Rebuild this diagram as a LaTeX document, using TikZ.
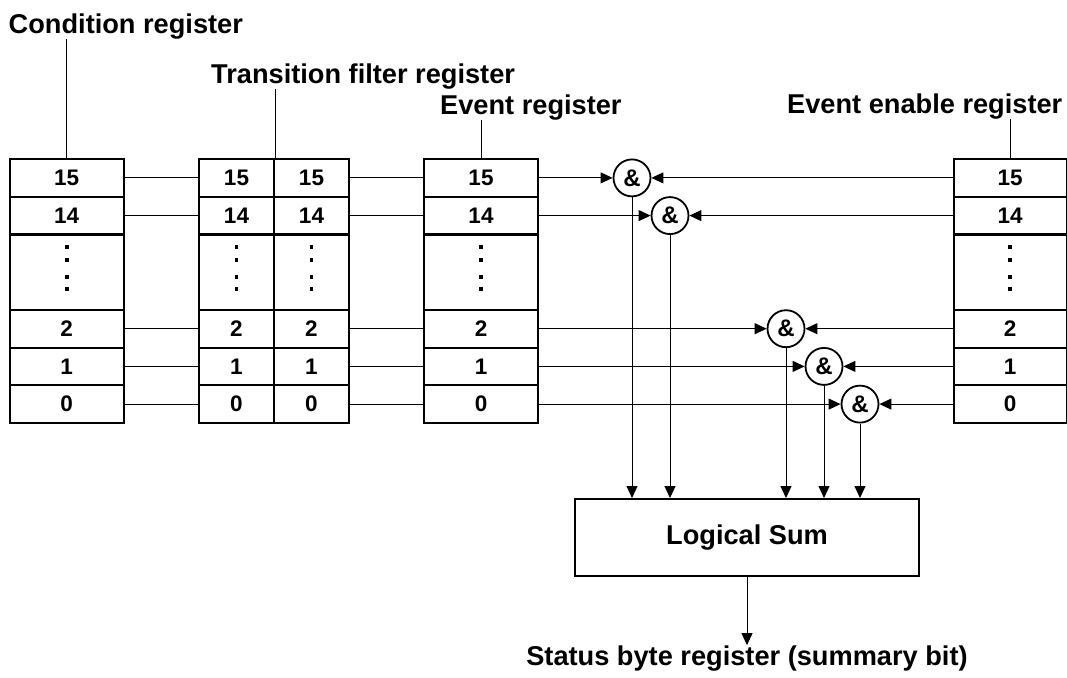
\documentclass[tikz,border=0pt]{standalone}
\usepackage{fontspec}
\setmainfont{Liberation Sans}
\usetikzlibrary{arrows.meta}

\newcommand{\regdots}[1]{%
  \foreach \dy in {25.5,12.5,-4.5,-16.5}
    \fill ([yshift=\dy pt]#1.center) +(-1.8,-1.8) rectangle +(1.8,1.8);}

\begin{document}
\begin{tikzpicture}[x=1pt, y=-1pt,
    cell/.style ={rectangle, draw, line width=2pt, minimum width=114pt, minimum height=37.7pt, inner sep=0pt, font=\fontsize{22.5}{24}\selectfont\bfseries},
    halfcell/.style ={cell, minimum width=75pt},
    gap/.style ={cell, minimum height=75.4pt},
    halfgap/.style ={halfcell, minimum height=75.4pt},
    andgate/.style ={circle, draw, line width=1.8pt, minimum size=37pt, inner sep=0pt, font=\fontsize{24}{24}\selectfont\bfseries},
    title/.style ={inner sep=0pt, anchor=base west, font=\fontsize{27.2}{30}\selectfont\bfseries},
    link/.style ={line width=1pt},
    flow/.style ={line width=1pt, -{Triangle[length=12pt,width=11pt]}}]
   \useasboundingbox (0,0) rectangle (1067,677);

   % condition register
   \node[cell] (C15) at (66.75,177.9) {15};
   \node[cell] (C14) at (66.75,215.6) {14};
   \node[gap]  (Cd)  at (66.75,272.5) {};
   \node[cell] (C2)  at (66.75,328.7) {2};
   \node[cell] (C1)  at (66.75,366.4) {1};
   \node[cell] (C0)  at (66.75,404.1) {0};

   % transition filter register
   \node[halfcell] (TA15) at (236.5,177.9) {15};
   \node[halfcell] (TA14) at (236.5,215.6) {14};
   \node[halfgap]  (TAd)  at (236.5,272.5) {};
   \node[halfcell] (TA2)  at (236.5,328.7) {2};
   \node[halfcell] (TA1)  at (236.5,366.4) {1};
   \node[halfcell] (TA0)  at (236.5,404.1) {0};
   \node[halfcell] (TB15) at (311.5,177.9) {15};
   \node[halfcell] (TB14) at (311.5,215.6) {14};
   \node[halfgap]  (TBd)  at (311.5,272.5) {};
   \node[halfcell] (TB2)  at (311.5,328.7) {2};
   \node[halfcell] (TB1)  at (311.5,366.4) {1};
   \node[halfcell] (TB0)  at (311.5,404.1) {0};

   % event register
   \node[cell] (E15) at (481,177.9) {15};
   \node[cell] (E14) at (481,215.6) {14};
   \node[gap]  (Ed)  at (481,272.5) {};
   \node[cell] (E2)  at (481,328.7) {2};
   \node[cell] (E1)  at (481,366.4) {1};
   \node[cell] (E0)  at (481,404.1) {0};

   % event enable register
   \node[cell, minimum width=113pt] (N15) at (1010,177.9) {15};
   \node[cell, minimum width=113pt] (N14) at (1010,215.6) {14};
   \node[gap, minimum width=113pt]  (Nd)  at (1010,272.5) {};
   \node[cell, minimum width=113pt] (N2)  at (1010,328.7) {2};
   \node[cell, minimum width=113pt] (N1)  at (1010,366.4) {1};
   \node[cell, minimum width=113pt] (N0)  at (1010,404.1) {0};

   \regdots{Cd} \regdots{TAd} \regdots{TBd} \regdots{Ed} \regdots{Nd}

   % and gates
   \node[andgate] (A15) at (632,177.9) {\&};
   \node[andgate] (A14) at (670,215.6) {\&};
   \node[andgate] (A2)  at (786,328.7) {\&};
   \node[andgate] (A1)  at (824,366.4) {\&};
   \node[andgate] (A0)  at (860,404.1) {\&};

   \node[draw, line width=2pt, minimum width=344pt, minimum height=77pt, font=\fontsize{27.2}{30}\selectfont\bfseries] (sum) at (747,537.5) {Logical Sum};

   % titles
   \node[title] (condlabel)   at (8.5,33.5) {Condition register};
   \node[title] (translabel)  at (211,83.5) {Transition filter register};
   \node[title] (eventlabel)  at (440,114)  {Event register};
   \node[title] (enablelabel) at (787,113)  {Event enable register};
   \node[title, anchor=base] (status) at (747,665) {Status byte register (summary bit)};

   \draw[link] (C15.north) -- (C15.north |- condlabel.south);
   \draw[link] (TA15.north east) -- (TA15.north east |- translabel.south);
   \draw[link] (E15.north) -- (E15.north |- eventlabel.south);
   \draw[link] (N15.north) -- (N15.north |- enablelabel.south);

   \draw[link] (C15) -- (TA15);
   \draw[link] (C14) -- (TA14);
   \draw[link] (C2) -- (TA2);
   \draw[link] (C1) -- (TA1);
   \draw[link] (C0) -- (TA0);
   \draw[link] (TB15) -- (E15);
   \draw[link] (TB14) -- (E14);
   \draw[link] (TB2) -- (E2);
   \draw[link] (TB1) -- (E1);
   \draw[link] (TB0) -- (E0);

   \draw[flow] (E15) -- (A15);
   \draw[flow] (E14) -- (A14);
   \draw[flow] (E2) -- (A2);
   \draw[flow] (E1) -- (A1);
   \draw[flow] (E0) -- (A0);
   \draw[flow] (N15) -- (A15);
   \draw[flow] (N14) -- (A14);
   \draw[flow] (N2) -- (A2);
   \draw[flow] (N1) -- (A1);
   \draw[flow] (N0) -- (A0);

   \draw[flow] (A15) -- (A15 |- sum.north);
   \draw[flow] (A14) -- (A14 |- sum.north);
   \draw[flow] (A2) -- (A2 |- sum.north);
   \draw[flow] (A1) -- (A1 |- sum.north);
   \draw[flow] (A0) -- (A0 |- sum.north);
   \draw[flow] (sum) -- (status);

 \end{tikzpicture}
\end{document}
